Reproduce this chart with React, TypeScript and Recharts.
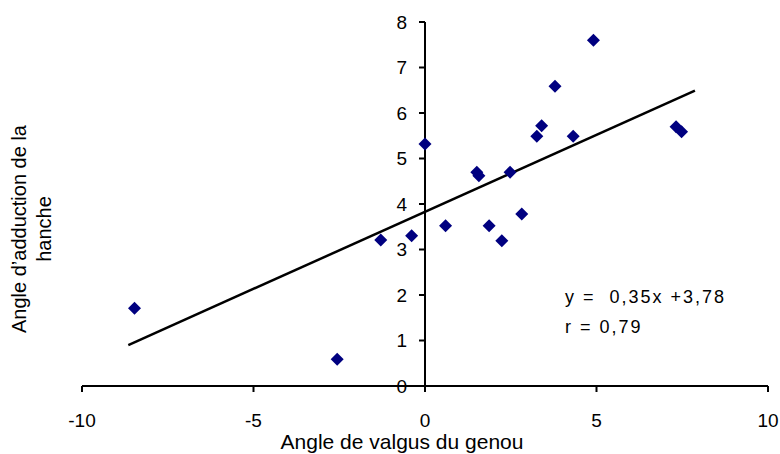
import {
  ScatterChart,
  Scatter,
  XAxis,
  YAxis,
  ReferenceLine,
  ReferenceDot
} from 'recharts';

// knee valgus angle (x) vs hip adduction angle (y)
const valgus = [
  -8.47, -2.56, -1.29, -0.39, 0, 0.6, 1.51, 1.57, 1.87, 2.24,
  2.48, 2.82, 3.26, 3.4, 3.79, 4.32, 4.91, 7.32, 7.48
];
const adduction = [
  1.71, 0.59, 3.21, 3.3, 5.32, 3.52, 4.7, 4.62, 3.52, 3.19,
  4.7, 3.78, 5.49, 5.72, 6.59, 5.49, 7.6, 5.7, 5.59
];

// regression line end points
const trendX = [-8.65, 7.87];
const trendY = [0.9, 6.49];

const xTicks = [-10, -5, 0, 5, 10];
const yTicks = [0, 1, 2, 3, 4, 5, 6, 7, 8];

const FONT = 'Arial, "Liberation Sans", sans-serif';

const points = valgus.map((x, i) => ({ x, y: adduction[i] }));
const trend = trendX.map((x, i) => ({ x, y: trendY[i] }));

const Diamond = (props: any) => {
  const { cx, cy } = props;
  const r = 6.5;
  return (
    <polygon
      points={`${cx},${cy - r} ${cx + r},${cy} ${cx},${cy + r} ${cx - r},${cy}`}
      fill="#000080"
    />
  );
};

// tick mark + label drawn on the y axis, which sits at x = 0
const YTick = (label: number) => (props: any) => {
  const { cx, cy } = props;
  return (
    <g>
      <line x1={cx - 6} x2={cx} y1={cy} y2={cy} stroke="#000" strokeWidth={2} />
      <text
        x={cx - 18}
        y={cy}
        dy="0.36em"
        textAnchor="end"
        fontSize={19}
        fontFamily={FONT}
        fill="#000"
      >
        {label}
      </text>
    </g>
  );
};

export default function App() {
  return (
    <div style={{ position: 'absolute', left: 0, top: 0, width: 780, height: 454, background: '#fff' }}>
      <ScatterChart
        width={780}
        height={454}
        margin={{ top: 22, right: 12, left: 82, bottom: 0 }}
      >
        <XAxis
          type="number"
          dataKey="x"
          domain={[-10, 10]}
          ticks={xTicks}
          height={68}
          tickSize={6}
          tickMargin={22}
          axisLine={{ stroke: '#000', strokeWidth: 2 }}
          tickLine={{ stroke: '#000', strokeWidth: 2 }}
          tick={{ fill: '#000', fontSize: 19, fontFamily: FONT }}
        />
        <YAxis type="number" dataKey="y" domain={[0, 8]} ticks={yTicks} hide />
        <ReferenceLine x={0} stroke="#000" strokeWidth={2} />
        {yTicks.map((t) => (
          <ReferenceDot key={t} x={0} y={t} shape={YTick(t)} />
        ))}
        <Scatter
          data={trend}
          line={{ stroke: '#000', strokeWidth: 2.5 }}
          lineType="joint"
          shape={() => <g />}
          isAnimationActive={false}
        />
        <Scatter data={points} shape={Diamond} isAnimationActive={false} />
      </ScatterChart>

      <div
        style={{
          position: 'absolute',
          left: 402,
          top: 430,
          transform: 'translateX(-50%)',
          whiteSpace: 'nowrap',
          fontFamily: FONT,
          fontSize: 21,
          lineHeight: '24px',
          color: '#000'
        }}
      >
        Angle de valgus du genou
      </div>

      <div
        style={{
          position: 'absolute',
          left: 32,
          top: 230,
          width: 0,
          height: 0,
          fontFamily: FONT,
          fontSize: 20,
          color: '#000'
        }}
      >
        <div
          style={{
            position: 'absolute',
            left: -160,
            top: -26,
            width: 320,
            textAlign: 'center',
            lineHeight: '25px',
            transform: 'rotate(-90deg)'
          }}
        >
          Angle d’adduction de la
          <br />
          hanche
        </div>
      </div>

      <div
        style={{
          position: 'absolute',
          left: 565,
          top: 282,
          fontFamily: FONT,
          fontSize: 18,
          lineHeight: '30px',
          letterSpacing: 2,
          whiteSpace: 'pre',
          color: '#000'
        }}
      >
        {'y =  0,35x +3,78'}
        <br />
        {'r = 0,79'}
      </div>
    </div>
  );
}
